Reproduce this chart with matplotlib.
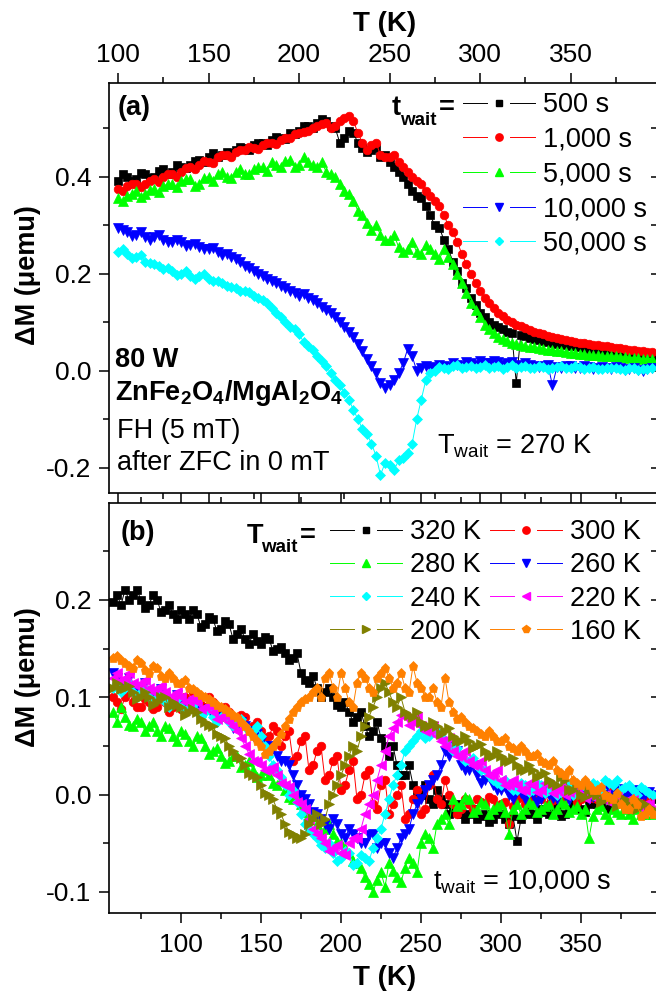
import matplotlib
matplotlib.use("Agg")
import matplotlib.pyplot as plt
from matplotlib.lines import Line2D
from matplotlib.legend_handler import HandlerBase
from matplotlib.ticker import MultipleLocator, FormatStrFormatter

plt.rcParams.update({
    "font.family": ["Liberation Sans", "DejaVu Sans"],
    "mathtext.fontset": "custom",
    "mathtext.rm": "Liberation Sans",
    "mathtext.bf": "Liberation Sans:bold",
    "mathtext.it": "Liberation Sans:italic",
    "axes.unicode_minus": False,
})

# ---------------- data: panel (a) ----------------
T_a = [100, 102.5, 105, 107.5, 110, 112.5, 115, 117.5, 120, 122.5, 125, 127.5,
       130, 132.5, 135, 137.5, 140, 142.5, 145, 147.5, 150, 152.5, 155, 157.5,
       160, 162.5, 165, 167.5, 170, 172.5, 175, 177.5, 180, 182.5, 185, 187.5,
       190, 192.5, 195, 197.5, 200, 202.5, 205, 207.5, 210, 212.5, 215, 217.5,
       220, 222.5, 225, 227.5, 230, 232.5, 235, 237.5, 240, 242.5, 245, 247.5,
       250, 252.5, 255, 257.5, 260, 262.5, 265, 267.5, 270, 272.5, 275, 277.5,
       280, 282.5, 285, 287.5, 290, 292.5, 295, 297.5, 300, 302.5, 305, 307.5,
       310, 312.5, 315, 317.5, 320, 322.5, 325, 327.5, 330, 332.5, 335, 337.5,
       340, 342.5, 345, 347.5, 350, 352.5, 355, 357.5, 360, 362.5, 365, 367.5,
       370, 372.5, 375, 377.5, 380, 382.5, 385, 387.5, 390, 392.5, 395]
dM_500s = [0.390, 0.405, 0.400, 0.392, 0.395, 0.408, 0.405, 0.398, 0.400, 0.412,
           0.415, 0.405, 0.410, 0.425, 0.420, 0.418, 0.425, 0.432, 0.435, 0.430,
           0.440, 0.448, 0.440, 0.445, 0.450, 0.448, 0.455, 0.462, 0.460, 0.455,
           0.465, 0.470, 0.470, 0.466, 0.475, 0.482, 0.480, 0.478, 0.490, 0.488,
           0.495, 0.505, 0.505, 0.500, 0.510, 0.518, 0.515, 0.505, 0.500, 0.470,
           0.480, 0.495, 0.490, 0.470, 0.460, 0.450, 0.455, 0.460, 0.440, 0.445,
           0.430, 0.420, 0.410, 0.400, 0.385, 0.370, 0.360, 0.355, 0.340, 0.320,
           0.300, 0.295, 0.270, 0.250, 0.225, 0.205, 0.180, 0.170, 0.150, 0.135,
           0.120, 0.110, 0.100, 0.095, 0.090, 0.085, 0.080, 0.078, -0.025, 0.074,
           0.072, 0.068, 0.066, 0.064, 0.062, 0.060, 0.058, 0.056, 0.055, 0.052,
           0.050, 0.050, 0.048, 0.046, 0.045, 0.043, 0.042, 0.041, 0.040, 0.037,
           0.038, 0.036, 0.035, 0.034, 0.033, 0.031, 0.030, 0.030, 0.030]
dM_1000s = [0.375, 0.370, 0.380, 0.385, 0.385, 0.378, 0.385, 0.392, 0.395, 0.388,
            0.400, 0.405, 0.405, 0.400, 0.410, 0.418, 0.420, 0.415, 0.425, 0.432,
            0.430, 0.428, 0.440, 0.445, 0.445, 0.440, 0.450, 0.455, 0.455, 0.462,
            0.460, 0.458, 0.465, 0.470, 0.470, 0.468, 0.475, 0.480, 0.480, 0.488,
            0.490, 0.492, 0.495, 0.500, 0.505, 0.508, 0.510, 0.500, 0.505, 0.515,
            0.520, 0.525, 0.515, 0.490, 0.470, 0.455, 0.465, 0.470, 0.445, 0.440,
            0.440, 0.445, 0.430, 0.420, 0.410, 0.400, 0.390, 0.385, 0.370, 0.360,
            0.350, 0.340, 0.320, 0.300, 0.285, 0.265, 0.240, 0.220, 0.200, 0.180,
            0.165, 0.150, 0.140, 0.130, 0.120, 0.112, 0.105, 0.100, 0.095, 0.092,
            0.088, 0.084, 0.080, 0.078, 0.075, 0.072, 0.070, 0.068, 0.066, 0.064,
            0.062, 0.060, 0.058, 0.057, 0.055, 0.054, 0.052, 0.051, 0.050, 0.048,
            0.047, 0.046, 0.045, 0.043, 0.042, 0.041, 0.040, 0.039, 0.038]
dM_5000s = [0.355, 0.350, 0.360, 0.365, 0.370, 0.358, 0.365, 0.372, 0.375, 0.368,
            0.380, 0.385, 0.385, 0.378, 0.390, 0.395, 0.395, 0.380, 0.385, 0.398,
            0.400, 0.392, 0.405, 0.410, 0.400, 0.398, 0.410, 0.415, 0.405, 0.405,
            0.415, 0.420, 0.420, 0.412, 0.430, 0.425, 0.420, 0.432, 0.435, 0.420,
            0.425, 0.440, 0.430, 0.425, 0.420, 0.430, 0.410, 0.405, 0.400, 0.385,
            0.370, 0.365, 0.350, 0.330, 0.320, 0.305, 0.290, 0.300, 0.280, 0.270,
            0.270, 0.280, 0.255, 0.245, 0.250, 0.265, 0.245, 0.240, 0.260, 0.250,
            0.240, 0.230, 0.250, 0.235, 0.220, 0.200, 0.180, 0.160, 0.140, 0.125,
            0.110, 0.095, 0.085, 0.078, 0.070, 0.066, 0.062, 0.058, 0.055, 0.052,
            0.050, 0.049, 0.048, 0.046, 0.045, 0.043, 0.042, 0.041, 0.040, 0.038,
            0.037, 0.036, 0.035, 0.034, 0.033, 0.032, 0.032, 0.031, 0.030, 0.030,
            0.030, 0.029, 0.028, 0.027, 0.027, 0.026, 0.025, 0.025, 0.025]
dM_10000s = [0.295, 0.290, 0.285, 0.278, 0.280, 0.285, 0.275, 0.270, 0.275, 0.280,
             0.270, 0.265, 0.265, 0.270, 0.265, 0.258, 0.260, 0.262, 0.255, 0.250,
             0.250, 0.252, 0.245, 0.238, 0.240, 0.235, 0.230, 0.225, 0.215, 0.212,
             0.205, 0.200, 0.195, 0.190, 0.185, 0.180, 0.175, 0.170, 0.165, 0.160,
             0.155, 0.158, 0.150, 0.145, 0.140, 0.132, 0.125, 0.118, 0.110, 0.100,
             0.090, 0.080, 0.070, 0.055, 0.040, 0.025, 0.010, -0.005, -0.025, -0.035,
             -0.030, -0.020, -0.005, 0.015, 0.045, 0.030, 0.000, 0.005, 0.010, 0.008,
             0.005, 0.012, 0.010, 0.008, 0.015, 0.012, 0.010, 0.018, 0.015, 0.012,
             0.020, 0.015, 0.015, 0.020, 0.018, 0.012, 0.015, 0.018, 0.012, 0.010,
             0.015, 0.012, 0.010, 0.008, 0.010, 0.012, -0.030, 0.008, 0.005, 0.010,
             0.010, 0.006, 0.005, 0.010, 0.008, 0.004, 0.005, 0.008, 0.005, 0.003,
             0.008, 0.006, 0.002, 0.004, 0.005, 0.002, 0.000, 0.004, 0.005]
dM_50000s = [0.245, 0.250, 0.240, 0.232, 0.235, 0.238, 0.225, 0.222, 0.220, 0.215,
             0.210, 0.212, 0.205, 0.198, 0.200, 0.205, 0.195, 0.190, 0.195, 0.200,
             0.190, 0.185, 0.185, 0.180, 0.175, 0.172, 0.170, 0.165, 0.165, 0.162,
             0.155, 0.150, 0.145, 0.140, 0.130, 0.120, 0.110, 0.100, 0.090, 0.085,
             0.075, 0.060, 0.050, 0.042, 0.030, 0.020, 0.010, -0.005, -0.020, -0.030,
             -0.045, -0.060, -0.080, -0.100, -0.120, -0.130, -0.150, -0.175, -0.215, -0.190,
             -0.195, -0.205, -0.185, -0.180, -0.170, -0.150, -0.100, -0.060, -0.020, -0.005,
             0.000, 0.008, 0.005, 0.003, 0.010, 0.012, 0.005, 0.008, 0.010, 0.005,
             0.008, 0.012, 0.005, 0.008, 0.010, 0.004, 0.008, 0.012, 0.005, 0.008,
             0.010, 0.005, 0.005, 0.010, 0.008, 0.004, 0.005, 0.008, 0.010, 0.006,
             0.005, 0.010, 0.008, 0.004, 0.005, 0.007, 0.003, 0.004, 0.005, 0.006,
             0.005, 0.003, 0.002, 0.006, 0.005, 0.002, 0.003, 0.004, 0.005]
labels_a = ["500 s", "1,000 s", "5,000 s", "10,000 s", "50,000 s"]

# ---------------- data: panel (b) ----------------
T_b = [57.5, 60, 62.5, 65, 67.5, 70, 72.5, 75, 77.5, 80, 82.5, 85, 87.5, 90, 92.5,
       95, 97.5, 100, 102.5, 105, 107.5, 110, 112.5, 115, 117.5, 120, 122.5, 125,
       127.5, 130, 132.5, 135, 137.5, 140, 142.5, 145, 147.5, 150, 152.5, 155,
       157.5, 160, 162.5, 165, 167.5, 170, 172.5, 175, 177.5, 180, 182.5, 185,
       187.5, 190, 192.5, 195, 197.5, 200, 202.5, 205, 207.5, 210, 212.5, 215,
       217.5, 220, 222.5, 225, 227.5, 230, 232.5, 235, 237.5, 240, 242.5, 245,
       247.5, 250, 252.5, 255, 257.5, 260, 262.5, 265, 267.5, 270, 272.5, 275,
       277.5, 280, 282.5, 285, 287.5, 290, 292.5, 295, 297.5, 300, 302.5, 305,
       307.5, 310, 312.5, 315, 317.5, 320, 322.5, 325, 327.5, 330, 332.5, 335,
       337.5, 340, 342.5, 345, 347.5, 350, 352.5, 355, 357.5, 360, 362.5, 365,
       367.5, 370, 372.5, 375, 377.5, 380, 382.5, 385, 387.5, 390, 392.5, 395]
dM_320K = [0.198, 0.205, 0.195, 0.210, 0.200, 0.205, 0.210, 0.200, 0.192, 0.195,
           0.205, 0.200, 0.188, 0.190, 0.195, 0.185, 0.180, 0.190, 0.185, 0.180,
           0.190, 0.185, 0.172, 0.175, 0.182, 0.180, 0.168, 0.170, 0.178, 0.175,
           0.160, 0.165, 0.170, 0.160, 0.155, 0.165, 0.158, 0.155, 0.162, 0.160,
           0.148, 0.150, 0.152, 0.145, 0.138, 0.140, 0.145, 0.125, 0.118, 0.115,
           0.122, 0.110, 0.100, 0.105, 0.110, 0.100, 0.092, 0.090, 0.095, 0.085,
           0.075, 0.080, 0.085, 0.070, 0.060, 0.065, 0.075, 0.058, 0.050, 0.040,
           0.050, 0.030, 0.020, 0.020, 0.030, 0.010, 0.000, 0.000, 0.010, -0.005,
           -0.010, 0.005, -0.005, -0.010, -0.020, -0.015, -0.010, -0.020, -0.025, -0.020,
           -0.015, -0.025, -0.022, -0.020, -0.028, -0.025, -0.018, -0.020, -0.025, -0.030,
           -0.022, -0.048, -0.025, -0.020, -0.015, -0.020, -0.025, -0.015, -0.018, -0.020,
           -0.012, -0.015, -0.022, -0.020, -0.015, -0.010, -0.012, -0.015, -0.018, -0.010,
           -0.008, -0.010, -0.012, -0.005, -0.015, -0.010, -0.008, -0.005, -0.012, -0.010,
           -0.002, -0.005, -0.012, -0.010, -0.008, -0.005]
dM_300K = [0.100, 0.095, 0.088, 0.100, 0.105, 0.095, 0.090, 0.090, 0.098, 0.095,
           0.088, 0.090, 0.100, 0.095, 0.085, 0.090, 0.095, 0.088, 0.100, 0.095,
           0.105, 0.100, 0.092, 0.090, 0.100, 0.095, 0.088, 0.080, 0.090, 0.085,
           0.072, 0.075, 0.082, 0.080, 0.068, 0.070, 0.075, 0.065, 0.058, 0.060,
           0.070, 0.065, 0.050, 0.060, 0.065, 0.035, 0.040, 0.055, 0.060, 0.025,
           0.030, 0.045, 0.050, 0.015, 0.020, 0.035, 0.040, 0.005, 0.010, 0.025,
           0.035, -0.005, 0.000, 0.020, 0.025, -0.010, -0.015, 0.010, 0.015, -0.020,
           -0.010, 0.000, 0.010, -0.025, -0.020, -0.005, 0.005, -0.020, -0.015, 0.010,
           0.020, -0.005, -0.010, 0.015, 0.000, -0.010, -0.020, -0.015, -0.005, -0.010,
           -0.015, -0.005, -0.008, -0.010, -0.002, -0.005, -0.012, -0.010, -0.008, -0.030,
           -0.012, -0.005, -0.002, -0.010, -0.008, 0.000, -0.003, -0.005, 0.002, -0.010,
           -0.006, 0.000, -0.002, -0.005, 0.003, 0.000, -0.008, -0.005, 0.002, 0.000,
           -0.003, -0.005, 0.002, 0.000, -0.004, 0.005, 0.000, 0.000, -0.006, -0.005,
           0.002, 0.000, -0.004, -0.005, -0.002, 0.000]
dM_280K = [0.085, 0.075, 0.090, 0.080, 0.072, 0.070, 0.078, 0.075, 0.065, 0.070,
           0.075, 0.065, 0.060, 0.070, 0.068, 0.060, 0.055, 0.065, 0.062, 0.055,
           0.050, 0.060, 0.058, 0.050, 0.042, 0.045, 0.048, 0.040, 0.032, 0.035,
           0.040, 0.040, 0.028, 0.030, 0.035, 0.025, 0.018, 0.020, 0.025, 0.020,
           0.012, 0.010, 0.015, 0.005, -0.002, -0.005, 0.000, -0.010, -0.018, -0.020,
           -0.022, -0.030, -0.038, -0.035, -0.030, -0.040, -0.048, -0.050, -0.055, -0.060,
           -0.068, -0.070, -0.075, -0.085, -0.092, -0.100, -0.088, -0.080, -0.095, -0.070,
           -0.078, -0.085, -0.090, -0.075, -0.065, -0.070, -0.080, -0.050, -0.040, -0.045,
           -0.055, -0.030, -0.025, -0.020, -0.030, -0.005, -0.012, -0.010, -0.002, -0.005,
           -0.018, -0.015, -0.008, -0.010, -0.020, -0.015, -0.012, -0.010, -0.018, -0.040,
           -0.015, -0.010, -0.020, -0.015, -0.008, -0.010, -0.018, -0.015, -0.012, -0.010,
           -0.020, -0.015, -0.008, -0.010, -0.018, -0.015, -0.012, -0.020, -0.015, -0.045,
           -0.022, -0.015, -0.012, -0.020, -0.025, -0.015, -0.018, -0.020, -0.015, -0.020,
           -0.025, -0.015, -0.020, -0.020, -0.015, -0.020]
dM_260K = [0.125, 0.120, 0.115, 0.115, 0.120, 0.110, 0.105, 0.110, 0.115, 0.105,
           0.100, 0.100, 0.108, 0.100, 0.095, 0.095, 0.102, 0.095, 0.090, 0.090,
           0.095, 0.090, 0.082, 0.085, 0.088, 0.080, 0.075, 0.080, 0.082, 0.075,
           0.068, 0.070, 0.075, 0.070, 0.065, 0.060, 0.062, 0.055, 0.050, 0.050,
           0.048, 0.040, 0.035, 0.035, 0.030, 0.020, 0.010, 0.000, -0.005, -0.010,
           -0.018, -0.020, -0.025, -0.030, -0.035, -0.025, -0.030, -0.040, -0.045, -0.035,
           -0.040, -0.045, -0.050, -0.050, -0.042, -0.040, -0.055, -0.050, -0.050, -0.060,
           -0.065, -0.055, -0.045, -0.040, -0.035, -0.020, -0.010, -0.005, 0.005, 0.010,
           0.015, 0.020, 0.030, 0.045, 0.040, 0.050, 0.045, 0.030, 0.025, 0.025,
           0.030, 0.020, 0.012, 0.015, 0.018, 0.010, 0.005, 0.005, 0.008, 0.000,
           -0.005, 0.005, 0.002, -0.005, 0.005, 0.000, -0.008, -0.005, 0.003, 0.000,
           -0.004, -0.005, 0.004, 0.000, -0.006, 0.005, 0.002, 0.000, 0.006, -0.005,
           -0.002, 0.000, 0.004, 0.005, -0.002, 0.000, 0.006, 0.005, 0.002, 0.000,
           0.004, 0.005, -0.002, 0.000, 0.003, 0.000]
dM_240K = [0.110, 0.115, 0.105, 0.110, 0.115, 0.105, 0.100, 0.105, 0.108, 0.100,
           0.095, 0.100, 0.102, 0.095, 0.090, 0.095, 0.098, 0.090, 0.085, 0.090,
           0.092, 0.085, 0.080, 0.085, 0.088, 0.080, 0.075, 0.080, 0.082, 0.075,
           0.070, 0.075, 0.078, 0.070, 0.065, 0.065, 0.070, 0.060, 0.050, 0.040,
           0.030, 0.025, 0.018, 0.010, 0.000, 0.005, -0.008, -0.020, -0.030, -0.035,
           -0.040, -0.045, -0.052, -0.055, -0.050, -0.060, -0.068, -0.065, -0.058, -0.060,
           -0.072, -0.070, -0.062, -0.065, -0.068, -0.055, -0.045, -0.035, -0.020, -0.005,
           0.010, 0.020, 0.030, 0.045, 0.050, 0.055, 0.060, 0.065, 0.058, 0.060,
           0.068, 0.065, 0.060, 0.055, 0.050, 0.045, 0.048, 0.040, 0.035, 0.035,
           0.038, 0.030, 0.025, 0.025, 0.020, 0.015, 0.012, 0.010, 0.015, 0.010,
           0.005, 0.005, 0.012, 0.010, 0.003, 0.005, 0.012, 0.010, 0.002, 0.005,
           0.008, 0.000, 0.003, 0.005, 0.010, 0.000, 0.004, 0.010, 0.008, 0.005,
           0.012, 0.010, 0.006, 0.015, 0.012, 0.010, 0.015, 0.005, 0.008, 0.010,
           0.005, 0.000, 0.008, 0.005, 0.002, 0.000]
dM_220K = [0.120, 0.125, 0.118, 0.120, 0.125, 0.115, 0.112, 0.115, 0.118, 0.110,
           0.105, 0.110, 0.112, 0.105, 0.100, 0.100, 0.105, 0.100, 0.095, 0.095,
           0.100, 0.095, 0.088, 0.090, 0.092, 0.085, 0.078, 0.080, 0.082, 0.075,
           0.070, 0.065, 0.058, 0.050, 0.042, 0.035, 0.035, 0.030, 0.025, 0.025,
           0.028, 0.020, 0.012, 0.010, 0.008, 0.000, -0.008, -0.010, -0.015, -0.025,
           -0.035, -0.040, -0.045, -0.050, -0.058, -0.055, -0.052, -0.060, -0.062, -0.050,
           -0.045, -0.045, -0.035, -0.020, -0.010, 0.000, 0.015, 0.030, 0.045, 0.060,
           0.068, 0.075, 0.082, 0.080, 0.072, 0.075, 0.080, 0.070, 0.065, 0.065,
           0.070, 0.060, 0.055, 0.050, 0.058, 0.045, 0.040, 0.040, 0.045, 0.035,
           0.030, 0.030, 0.035, 0.025, 0.020, 0.020, 0.025, 0.015, 0.010, 0.010,
           0.015, 0.010, 0.005, 0.005, 0.012, 0.010, 0.003, 0.005, 0.012, 0.010,
           0.002, 0.005, 0.008, 0.000, 0.003, 0.005, 0.006, 0.000, -0.003, 0.000,
           0.004, -0.005, -0.002, 0.000, -0.008, -0.005, -0.002, -0.010, -0.012, -0.005,
           -0.006, -0.010, -0.014, -0.010, -0.010, -0.015]
dM_200K = [0.110, 0.115, 0.108, 0.110, 0.112, 0.105, 0.098, 0.100, 0.105, 0.100,
           0.092, 0.095, 0.100, 0.100, 0.090, 0.095, 0.092, 0.090, 0.082, 0.085,
           0.088, 0.085, 0.078, 0.075, 0.072, 0.070, 0.062, 0.060, 0.058, 0.050,
           0.045, 0.040, 0.038, 0.030, 0.022, 0.020, 0.018, 0.010, 0.002, 0.000,
           -0.005, -0.015, -0.020, -0.030, -0.038, -0.040, -0.045, -0.045, -0.040, -0.030,
           -0.025, -0.020, -0.030, -0.025, -0.010, 0.000, 0.010, 0.020, 0.030, 0.040,
           0.050, 0.045, 0.060, 0.070, 0.080, 0.090, 0.100, 0.110, 0.115, 0.105,
           0.095, 0.090, 0.100, 0.085, 0.082, 0.080, 0.085, 0.075, 0.070, 0.070,
           0.075, 0.070, 0.062, 0.065, 0.068, 0.060, 0.055, 0.055, 0.060, 0.055,
           0.048, 0.050, 0.052, 0.045, 0.040, 0.040, 0.045, 0.040, 0.035, 0.035,
           0.038, 0.030, 0.025, 0.025, 0.030, 0.025, 0.018, 0.020, 0.022, 0.015,
           0.012, 0.010, 0.018, 0.015, 0.005, 0.005, 0.010, 0.000, -0.002, 0.005,
           0.002, 0.000, -0.008, -0.005, 0.000, -0.005, -0.012, -0.010, -0.005, -0.010,
           -0.015, -0.015, -0.008, -0.010, -0.018, -0.015]
dM_160K = [0.140, 0.142, 0.138, 0.135, 0.132, 0.130, 0.138, 0.135, 0.128, 0.125,
           0.132, 0.130, 0.122, 0.120, 0.125, 0.120, 0.115, 0.115, 0.118, 0.110,
           0.108, 0.105, 0.102, 0.100, 0.098, 0.095, 0.092, 0.090, 0.088, 0.085,
           0.082, 0.080, 0.075, 0.070, 0.065, 0.060, 0.055, 0.050, 0.042, 0.045,
           0.050, 0.055, 0.062, 0.070, 0.078, 0.085, 0.090, 0.095, 0.098, 0.100,
           0.105, 0.110, 0.100, 0.120, 0.125, 0.110, 0.100, 0.125, 0.110, 0.095,
           0.090, 0.115, 0.125, 0.120, 0.110, 0.105, 0.120, 0.125, 0.130, 0.120,
           0.110, 0.115, 0.125, 0.110, 0.105, 0.132, 0.115, 0.110, 0.100, 0.100,
           0.110, 0.095, 0.090, 0.120, 0.095, 0.085, 0.078, 0.080, 0.075, 0.070,
           0.068, 0.065, 0.062, 0.060, 0.065, 0.060, 0.055, 0.055, 0.058, 0.050,
           0.048, 0.045, 0.050, 0.045, 0.040, 0.040, 0.042, 0.035, 0.032, 0.030,
           0.035, 0.025, 0.022, 0.020, 0.025, 0.015, 0.012, 0.010, 0.015, 0.010,
           0.005, 0.005, 0.008, 0.000, -0.002, -0.005, 0.002, -0.010, -0.015, -0.015,
           -0.005, -0.010, -0.022, -0.020, -0.015, -0.020]
labels_b = ["320 K", "300 K", "280 K", "260 K", "240 K", "220 K", "200 K", "160 K"]

for _s in (dM_500s, dM_1000s, dM_5000s, dM_10000s, dM_50000s):
    assert len(_s) == len(T_a), len(_s)
for _s in (dM_320K, dM_300K, dM_280K, dM_260K, dM_240K, dM_220K, dM_200K, dM_160K):
    assert len(_s) == len(T_b), len(_s)

# ---------------- figure ----------------
W, H = 656, 992
FS = 19.5
fig = plt.figure(figsize=(W / 100, H / 100), dpi=100)


def fx(px):
    return px / W


def fy(py):
    return 1 - py / H


ax_a = fig.add_axes([fx(109), fy(493), (660.5 - 109) / W, (493 - 83) / H])
ax_b = fig.add_axes([fx(109), fy(913), (660.5 - 109) / W, (913 - 503) / H])


class GapHandler(HandlerBase):
    def create_artists(self, legend, orig_handle, xdescent, ydescent, width,
                       height, fontsize, trans):
        y = height / 2 - ydescent
        x0 = -xdescent
        c = orig_handle.get_color()
        lw = orig_handle.get_linewidth()
        l1 = Line2D([x0, x0 + 0.34 * width], [y, y], color=c, lw=lw)
        l2 = Line2D([x0 + 0.66 * width, x0 + width], [y, y], color=c, lw=lw)
        m = Line2D([x0 + width / 2], [y], ls="none", marker=orig_handle.get_marker(),
                   ms=orig_handle.get_markersize() * 0.85, color=c, mec=c)
        for a in (l1, l2, m):
            a.set_transform(trans)
        return [l1, l2, m]


series_a = [
    (dM_500s, "#000000", "s", 5.2),
    (dM_1000s, "#ff0000", "o", 6.2),
    (dM_5000s, "#00ff00", "^", 6.6),
    (dM_10000s, "#0000ff", "v", 6.6),
    (dM_50000s, "#00ffff", "D", 5.2),
]
handles_a = []
for (vals, col, mk, ms), lab in zip(series_a, labels_a):
    ln, = ax_a.plot(T_a, vals, color=col, marker=mk, ms=ms, lw=0.7, mec=col,
                    mew=0.5, label=lab)
    handles_a.append(ln)

series_b = [
    (dM_320K, "#000000", "s", 5.2),
    (dM_300K, "#ff0000", "o", 6.2),
    (dM_280K, "#00ff00", "^", 6.6),
    (dM_260K, "#0000ff", "v", 6.6),
    (dM_240K, "#00ffff", "D", 5.2),
    (dM_220K, "#ff00ff", "<", 6.6),
    (dM_200K, "#808000", ">", 6.6),
    (dM_160K, "#ff8000", "p", 6.8),
]
handles_b = []
for (vals, col, mk, ms), lab in zip(series_b, labels_b):
    ln, = ax_b.plot(T_b, vals, color=col, marker=mk, ms=ms, lw=0.7, mec=col,
                    mew=0.5, label=lab)
    handles_b.append(ln)

# ---------------- axes ----------------
ax_a.set_xlim(95, 399.7)
ax_a.set_ylim(-0.252, 0.593)
ax_b.set_xlim(55, 399.7)
ax_b.set_ylim(-0.1216, 0.2995)

for ax in (ax_a, ax_b):
    ax.xaxis.set_major_locator(MultipleLocator(50))
    ax.xaxis.set_minor_locator(MultipleLocator(25))
    ax.yaxis.set_major_formatter(FormatStrFormatter("%.1f"))
    for s in ax.spines.values():
        s.set_linewidth(1.2)
    ax.tick_params(axis="both", which="major", length=7.2, width=1.1,
                   labelsize=19, direction="out")
    ax.tick_params(axis="both", which="minor", length=4.3, width=1.1,
                   direction="out")
    ax.tick_params(axis="x", which="both", top=True, bottom=True)
    ax.tick_params(axis="y", which="both", left=True, right=False, pad=5.5)

ax_a.yaxis.set_major_locator(MultipleLocator(0.2))
ax_a.yaxis.set_minor_locator(MultipleLocator(0.1))
ax_b.yaxis.set_major_locator(MultipleLocator(0.1))
ax_b.yaxis.set_minor_locator(MultipleLocator(0.05))

ax_a.tick_params(axis="x", which="both", labeltop=True, labelbottom=False, pad=4.3)
ax_b.tick_params(axis="x", which="both", labeltop=False, labelbottom=True, pad=7.0)

for ax, maj, mnr in ((ax_a, 0.2, 0.1), (ax_b, 0.1, 0.05)):
    sec = ax.secondary_yaxis("right")
    sec.yaxis.set_major_locator(MultipleLocator(maj))
    sec.yaxis.set_minor_locator(MultipleLocator(mnr))
    sec.tick_params(axis="y", which="both", direction="in", labelright=False,
                    length=7.2, width=1.1)

# axis labels
ax_a.set_xlabel("T (K)", fontsize=20, fontweight="bold")
ax_a.xaxis.set_label_position("top")
ax_a.xaxis.set_label_coords(0.5005, (493 - 24) / 410)
ax_a.xaxis.label.set_va("center")
ax_b.set_xlabel("T (K)", fontsize=20, fontweight="bold")
ax_b.xaxis.set_label_coords(0.5005, (913 - 978) / 410)
ax_b.xaxis.label.set_va("center")

ax_a.set_ylabel("ΔM (μemu)", fontsize=FS, fontweight="bold")
ax_a.yaxis.set_label_coords((28 - 109) / 551.5, (493 - 275) / 410)
ax_a.yaxis.label.set_va("center")
ax_b.set_ylabel("ΔM (μemu)", fontsize=FS, fontweight="bold")
ax_b.yaxis.set_label_coords((28 - 109) / 551.5, (913 - 677) / 410)
ax_b.yaxis.label.set_va("center")

# legends
ax_a.legend(handles_a, labels_a, handler_map={Line2D: GapHandler()},
            loc="upper left", bbox_to_anchor=(fx(463), fy(92)),
            bbox_transform=fig.transFigure, frameon=False, borderpad=0,
            borderaxespad=0, handlelength=2.65, handletextpad=0.3,
            labelspacing=0.32, fontsize=FS)
order = [0, 2, 4, 6, 1, 3, 5, 7]
ax_b.legend([handles_b[i] for i in order], [labels_b[i] for i in order],
            handler_map={Line2D: GapHandler()}, ncol=2,
            loc="upper left", bbox_to_anchor=(fx(330), fy(519)),
            bbox_transform=fig.transFigure, frameon=False, borderpad=0,
            borderaxespad=0, handlelength=2.65, handletextpad=0.3,
            labelspacing=0.27, columnspacing=0.33, fontsize=FS)

# annotations
fig.text(fx(118), fy(108), "(a)", fontsize=FS, fontweight="bold", va="center")
fig.text(fx(121), fy(533), "(b)", fontsize=FS, fontweight="bold", va="center")
fig.text(fx(392), fy(115), "t", fontsize=FS, fontweight="bold", va="baseline")
fig.text(fx(400), fy(125), "wait", fontsize=13.5, fontweight="bold", va="baseline")
fig.text(fx(439), fy(115), "=", fontsize=FS, fontweight="bold", va="baseline")
fig.text(fx(247), fy(543), "T", fontsize=FS, fontweight="bold", va="baseline")
fig.text(fx(261), fy(552), "wait", fontsize=13.5, fontweight="bold", va="baseline")
fig.text(fx(300), fy(543), "=", fontsize=FS, fontweight="bold", va="baseline")
fig.text(fx(115), fy(367), "80 W", fontsize=FS, fontweight="bold", va="baseline")
fig.text(fx(115), fy(400), r"$\mathbf{ZnFe_2O_4/MgAl_2O_4}$", fontsize=FS,
         va="baseline")
fig.text(fx(117), fy(438), "FH (5 mT)", fontsize=FS, va="baseline")
fig.text(fx(117), fy(470), "after ZFC in 0 mT", fontsize=FS, va="baseline")
fig.text(fx(437), fy(453), r"T$_{\mathrm{wait}}$ = 270 K", fontsize=FS, va="baseline")
fig.text(fx(433), fy(890), r"t$_{\mathrm{wait}}$ = 10,000 s", fontsize=FS, va="baseline")

fig.savefig("out.png", dpi=100)
